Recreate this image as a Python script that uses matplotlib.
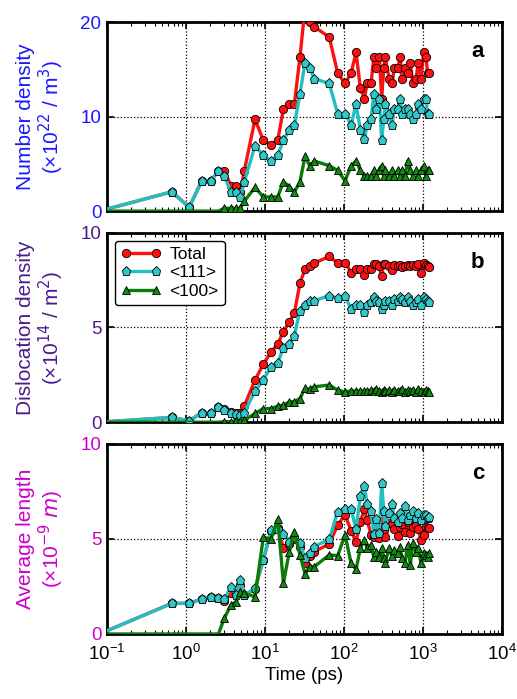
import matplotlib
matplotlib.use("Agg")
import matplotlib.pyplot as plt
from matplotlib.ticker import LogLocator, NullFormatter, FixedLocator

plt.rcParams['font.family'] = ['Liberation Sans', 'DejaVu Sans']

# time (ps)
t = [0.08, 0.66, 1.10, 1.58, 2.07, 2.57, 3.05, 3.71, 4.30, 4.88, 5.47, 7.47, 9.52,
     11.9, 14.5, 17.1, 20.3, 23.5, 27.7, 32.1, 36.8, 42.0, 65.1, 83.1, 103, 123,
     142, 161, 181, 196, 220, 238, 257, 280, 300, 318, 330, 374, 405, 433, 478,
     516, 537, 591, 640, 691, 740, 815, 873, 944, 1020, 1090, 1145, 1180]

# panel a: number density
a_total = [0, 2.04, 0.4, 3.2, 3.2, 4.27, 4.27, 2.68, 2.7, 2.0, 4.27,
           9.7, 7.5, 7.0, 7.5, 10.8, 11.3, 11.3, 16.3, 21.5, 20.0, 19.5,
           18.4, 14.6, 13.5, 14.6, 16.8, 13.0, 11.9, 13.5, 13.5, 16.3,
           15.1, 16.3, 11.9, 15.1, 16.3, 14.0, 13.5, 15.1, 15.1, 16.3,
           14.0, 15.1, 14.6, 15.7, 13.5, 14.0, 15.7, 14.0, 16.8, 16.3, 14.6, 14.6]
a_111 = [0, 2.04, 0.4, 3.2, 3.2, 4.27, 3.7, 2.04, 2.04, 1.5, 3.1,
         6.9, 5.9, 5.3, 5.9, 7.5, 8.6, 9.1, 12.4, 15.7, 15.1, 14.0,
         13.5, 10.3, 10.3, 9.1, 11.3, 8.6, 7.6, 9.1, 9.7, 12.4,
         10.8, 11.9, 7.5, 9.7, 11.3, 10.3, 9.1, 10.8, 10.8, 11.9,
         10.3, 10.8, 10.8, 10.3, 9.7, 10.3, 11.3, 10.8, 11.9, 11.9, 10.3, 10.3]
a_100 = [0, 0, 0, 0, 0, 0, 0.3, 0.3, 0.3, 0.3, 1.06,
         2.5, 1.5, 1.5, 1.5, 3.1, 2.6, 2.0, 3.1, 5.8, 4.8, 5.3,
         4.8, 4.3, 3.2, 4.8, 5.3, 4.3, 3.7, 3.7, 3.7, 4.3,
         3.7, 4.3, 4.8, 3.7, 4.3, 3.7, 4.3, 3.7, 4.3, 3.7,
         4.3, 3.7, 5.3, 4.3, 3.7, 4.3, 3.7, 4.3, 4.8, 3.7, 4.3, 4.3]

# panel b: dislocation density
b_total = [0, 0.25, 0.07, 0.5, 0.5, 0.78, 0.72, 0.55, 0.49, 0.46, 0.86,
           2.22, 3.07, 3.69, 4.13, 4.78, 5.31, 5.75, 7.34, 8.08, 8.25, 8.4,
           8.75, 8.4, 8.43, 7.9, 8.08, 8.08, 7.78, 8.08, 8.08, 8.34,
           8.34, 8.22, 7.72, 8.34, 8.34, 8.22, 8.04, 8.3, 8.25, 8.3,
           8.2, 8.25, 8.3, 8.22, 8.3, 8.25, 8.35, 7.87, 8.4, 8.3, 8.25, 8.2]
b_111 = [0, 0.25, 0.07, 0.5, 0.5, 0.78, 0.63, 0.5, 0.42, 0.37, 0.5,
         1.64, 2.22, 2.93, 3.14, 3.93, 4.13, 4.57, 5.89, 6.19, 6.42, 6.42,
         6.67, 6.54, 6.67, 5.96, 6.19, 6.19, 5.84, 6.19, 6.37, 6.6,
         6.42, 6.37, 5.96, 6.19, 6.42, 6.42, 6.19, 6.5, 6.42, 6.6,
         6.5, 6.37, 6.6, 6.42, 6.19, 6.37, 6.5, 6.19, 6.6, 6.5, 6.42, 6.37]
b_100 = [0, 0, 0, 0, 0, 0, 0.03, 0.03, 0.05, 0.05, 0.1,
         0.46, 0.72, 0.72, 0.85, 0.9, 1.08, 1.08, 1.25, 1.78, 1.73, 1.87,
         1.96, 1.69, 1.6, 1.65, 1.65, 1.65, 1.65, 1.65, 1.7, 1.65,
         1.75, 1.65, 1.6, 1.7, 1.65, 1.7, 1.6, 1.7, 1.65, 1.65,
         1.75, 1.6, 1.7, 1.65, 1.7, 1.6, 1.75, 1.65, 1.6, 1.7, 1.65, 1.6]

# panel c: average length
c_total = [0, 1.61, 1.61, 1.84, 1.96, 1.88, 1.75, 2.14, 2.14, 2.58, 2.05,
           2.35, 3.9, 5.4, 5.6, 4.5, 4.75, 5.0, 4.6, 3.72, 4.1, 4.33,
           4.74, 5.74, 6.26, 5.44, 4.84, 5.91, 6.56, 6.0, 5.21, 5.09,
           5.79, 5.04, 6.03, 5.47, 5.09, 5.86, 5.8, 5.51, 5.16, 5.65,
           5.8, 5.39, 5.91, 5.3, 5.65, 5.74, 5.51, 4.95, 5.21, 5.65, 5.55, 5.6]
c_111 = [0, 1.61, 1.61, 1.84, 1.96, 1.88, 1.82, 2.49, 2.05, 2.84, 2.05,
         2.4, 3.9, 5.47, 5.5, 5.26, 4.86, 5.09, 4.77, 3.98, 4.28, 4.6,
         4.98, 6.44, 6.56, 6.56, 5.5, 7.26, 7.79, 6.84, 6.49, 5.26,
         6.03, 5.33, 7.96, 6.49, 5.68, 6.39, 6.84, 6.09, 5.91, 6.35,
         6.09, 6.74, 6.0, 6.26, 6.49, 6.09, 6.35, 6.0, 6.26, 6.26, 6.1, 6.15]
c_100 = [0, 0, 0, 0, 0, 0, 0.82, 1.53, 1.7, 2.23, 2.14,
         1.96, 5.09, 5.0, 6.03, 2.67, 4.33, 5.39, 4.16, 3.16, 3.54, 3.54,
         4.16, 4.12, 5.21, 3.72, 3.4, 4.5, 4.95, 4.5, 4.68, 4.07,
         4.33, 4.07, 4.5, 3.98, 3.75, 4.5, 4.1, 4.42, 4.25, 4.6,
         3.98, 3.72, 4.68, 3.63, 4.77, 4.33, 4.5, 3.72, 4.25, 4.16, 4.07, 4.25]

ylabels = ['Number density\n(×10$^{22}$ / m$^3$)',
           'Dislocation density\n(×10$^{14}$ / m$^2$)',
           'Average length\n(×10$^{-9}$ $m$)']
ycolors = ['#1a1aff', '#4b1c8c', '#cc00cc']
yticks = [[0, 10, 20], [0, 5, 10], [0, 5, 10]]
letters = ['a', 'b', 'c']
data = [(a_total, a_111, a_100), (b_total, b_111, b_100), (c_total, c_111, c_100)]

fig = plt.figure(figsize=(5.17, 6.99), dpi=100)
boxes = [(0.698, 0.9685), (0.396, 0.667), (0.093, 0.365)]
left, right = 0.207, 0.971

for i in range(3):
    bot, top = boxes[i]
    ax = fig.add_axes([left, bot, right - left, top - bot])
    tot, s111, s100 = data[i]
    ax.plot(t, tot, '-o', color='#ff1010', lw=2.4, ms=6, mfc='#ff1010',
            mec='black', mew=0.6, label='Total', zorder=3)
    ax.plot(t, s111, '-p', color='#20c0c0', lw=2.4, ms=6.5, mfc='#30c8c8',
            mec='black', mew=0.6, label='<111>', zorder=4)
    ax.plot(t, s100, '-^', color='#0a7a0a', lw=2.4, ms=6, mfc='#108a10',
            mec='black', mew=0.6, label='<100>', zorder=5,
            markevery=list(range(6, len(t))))
    ax.set_xscale('log')
    ax.set_xlim(0.1, 1e4)
    ax.set_ylim(yticks[i][0], yticks[i][-1])
    ax.yaxis.set_major_locator(FixedLocator(yticks[i]))
    ax.xaxis.set_major_locator(LogLocator(base=10, numticks=10))
    ax.xaxis.set_minor_locator(LogLocator(base=10, subs=range(2, 10), numticks=20))
    ax.xaxis.set_minor_formatter(NullFormatter())
    ax.grid(True, which='major', linestyle=':', color='black', lw=0.9)
    ax.tick_params(which='both', direction='in', top=True, right=True)
    ax.tick_params(which='major', length=5, width=1.2)
    ax.tick_params(which='minor', length=3, width=0.8)
    ax.tick_params(axis='y', labelcolor=ycolors[i], labelsize=13.5, pad=4)
    ax.tick_params(axis='x', labelsize=13.5, pad=7)
    for sp in ax.spines.values():
        sp.set_linewidth(2)
    ax.set_ylabel(ylabels[i], color=ycolors[i], fontsize=15, linespacing=1.1)
    ax.yaxis.set_label_coords(-0.104, 0.5)
    ax.text(0.955, 0.9, letters[i], transform=ax.transAxes, fontsize=16,
            fontweight='bold', ha='right', va='top')
    if i < 2:
        ax.set_xticklabels([])
    else:
        ax.set_xlabel('Time (ps)', fontsize=13.5, labelpad=2)
    if i == 1:
        leg = ax.legend(loc='upper left', fontsize=12.5, frameon=True,
                        fancybox=True, edgecolor='black', framealpha=1,
                        handlelength=2.3, borderaxespad=0.45, labelspacing=0.2,
                        handletextpad=0.5, borderpad=0.35, numpoints=2)
        leg.get_frame().set_linewidth(1)

fig.savefig('out.png', dpi=100)
